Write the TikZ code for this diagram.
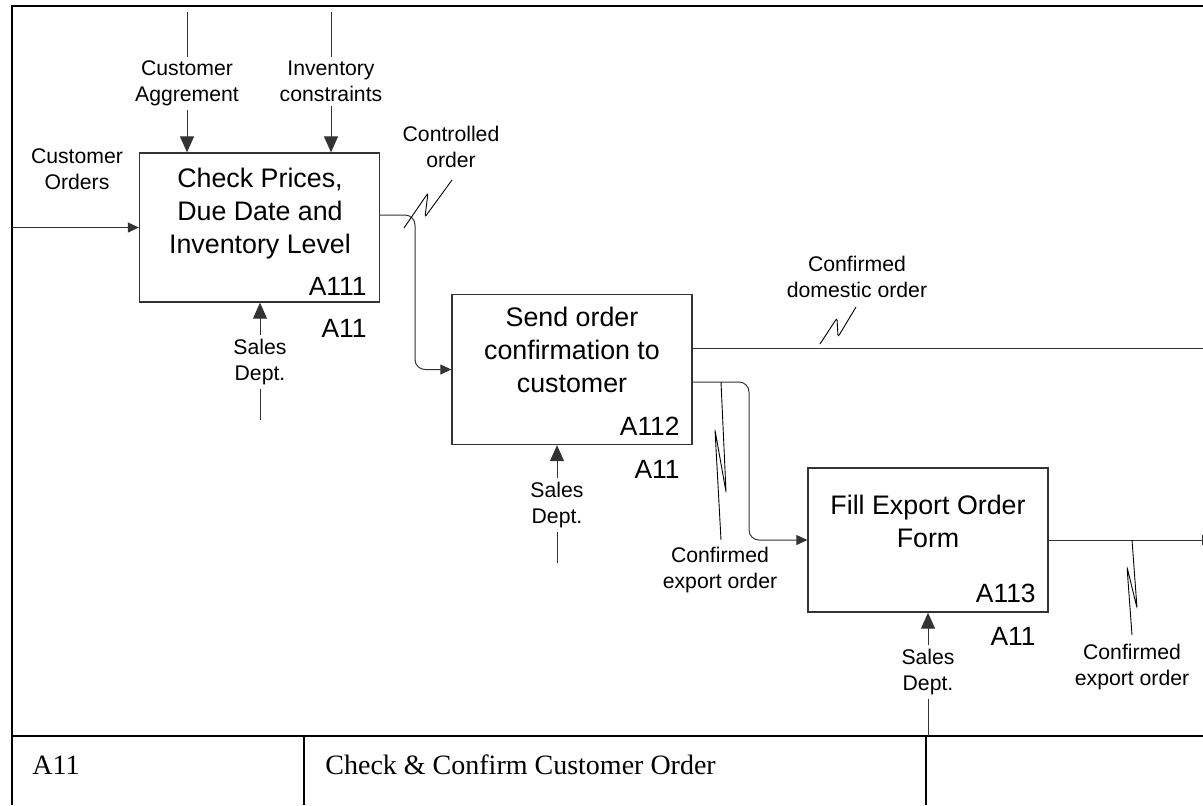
\documentclass[tikz,border=0pt]{standalone}
\usepackage{fontspec}
\setmainfont{Liberation Sans}
\newfontfamily\serifface{Liberation Serif}
\usetikzlibrary{arrows.meta}

\begin{document}
\begin{tikzpicture}[x=0.5pt,y=-0.5pt,
  line/.style={draw=black!80, line width=0.5pt},
  flow/.style={line, -{Triangle[length=5.5pt,width=5pt]}},
  ctrl/.style={line, -{Triangle[length=8pt,width=7pt]}},
  squig/.style={draw=black, line width=0.45pt, rounded corners=1.2pt},
  frame/.style={draw=black, line width=1.1pt},
  activity/.style={draw=black!80, line width=0.65pt, inner sep=0pt, minimum width=120pt},
  title/.style={align=center, inner sep=0pt, font=\fontsize{13.4}{16.3}\selectfont},
  code/.style={inner sep=0pt, font=\fontsize{13.2}{15}\selectfont},
  lbl/.style={align=center, inner sep=2pt, font=\fontsize{10.6}{12.6}\selectfont},
  cell/.style={inner sep=0pt, font=\serifface\fontsize{14}{16}\selectfont}]

\useasboundingbox (0,0) rectangle (1203,805);
\clip (0,0) rectangle (1203,805);

% frame and title block
\draw[frame] (12,805) -- (12,6) -- (1230,6);
\draw[frame, line width=1.3pt] (12,736) -- (1230,736);
\draw[frame, line width=0.9pt] (304,736) -- (304,805);
\draw[frame, line width=0.9pt] (926,736) -- (926,805);
\node[cell, anchor=base west] (nodeid) at (32,774) {A11};
\node[cell, anchor=base west] (nodetitle) at (325,774) {Check \& Confirm Customer Order};

% activities
\node[activity, minimum height=74.5pt] (a111) at (259.5,227.5) {};
\node[activity, minimum height=75pt] (a112) at (572,369.5) {};
\node[activity, minimum height=72pt] (a113) at (928,540) {};

% activity names (anchored at the baseline of their last line)
\node[title, anchor=base] (t111) at (260,253) {Check Prices,\\Due Date and\\Inventory Level};
\node[title, anchor=base] (t112) at (572,392) {Send order\\confirmation to\\customer};
\node[title, anchor=base] (t113) at (928,547) {Fill Export Order\\Form};

\node[code, anchor=base east] (n111) at (367,295) {A111};
\node[code, anchor=base east] (p111) at (367,337) {A11};
\node[code, anchor=base east] (n112) at (680,435) {A112};
\node[code, anchor=base east] (p112) at (680,478) {A11};
\node[code, anchor=base east] (n113) at (1036,602) {A113};
\node[code, anchor=base east] (p113) at (1036,645) {A11};

% arrow labels (anchored at the baseline of their last line)
\node[lbl, anchor=base] (ca) at (187,101) {Customer\\Aggrement};
\node[lbl, anchor=base] (ic) at (331,101) {Inventory\\constraints};
\node[lbl, anchor=base] (co) at (77,189) {Customer\\Orders};
\node[lbl, anchor=base] (cto) at (451,167) {Controlled\\order};
\node[lbl, anchor=base] (sd1) at (260,380) {Sales\\Dept.};
\node[lbl, anchor=base] (sd2) at (557,523) {Sales\\Dept.};
\node[lbl, anchor=base] (sd3) at (928,690) {Sales\\Dept.};
\node[lbl, anchor=base] (cdo) at (857,297) {Confirmed\\domestic order};
\node[lbl, anchor=base] (ceo1) at (720,588) {Confirmed\\export order};
\node[lbl, anchor=base] (ceo2) at (1132,685) {Confirmed\\export order};

% boundary points
\coordinate (caTop) at (187,12);
\coordinate (icTop) at (331,12);
\coordinate (inCO) at (12,227.5);
\coordinate (m1) at (260,420);
\coordinate (m2) at (557,563);
\coordinate (m3) at (928,736);
\coordinate (outDom) at (1203,348);
\coordinate (outExp) at (1213,540);
\coordinate (bend1) at (415,0);
\coordinate (bend2) at (749,0);

% controls
\draw[line] (caTop) -- (ca.north);
\draw[ctrl] (ca.south) -- (ca.south |- a111.north);
\draw[line] (icTop) -- (ic.north);
\draw[ctrl] (ic.south) -- (ic.south |- a111.north);

% input
\draw[flow] (inCO) -- (a111.west);

% mechanisms
\draw[line] (m1) -- (sd1.south);
\draw[ctrl] (sd1.north) -- (sd1.north |- a111.south);
\draw[line] (m2) -- (sd2.south);
\draw[ctrl] (sd2.north) -- (sd2.north |- a112.south);
\draw[line] (m3) -- (sd3.south);
\draw[ctrl] (sd3.north) -- (sd3.north |- a113.south);

% outputs
\draw[flow, rounded corners=5pt] ([yshift=6.25pt]a111.east) -| (bend1 |- a112.west) -- (a112.west);
\draw[line] (a112.east |- outDom) -- (outDom);
\draw[flow, rounded corners=5pt] ([yshift=-6.25pt]a112.east) -| (bend2 |- a113.west) -- (a113.west);
\draw[flow] (a113.east) -- (outExp);

% squiggles tying labels to arrows
\draw[squig] (404,228) -- (428,193) -- (425,217) -- (452,180);
\draw[squig] (820,344) -- (837,318) -- (838,337) -- (856,307);
\draw[squig] (721,382) -- (726,492) -- (715,430) -- (721,540);
\draw[squig] (1132,540) -- (1137,608) -- (1127,567) -- (1132,635);
\end{tikzpicture}
\end{document}
